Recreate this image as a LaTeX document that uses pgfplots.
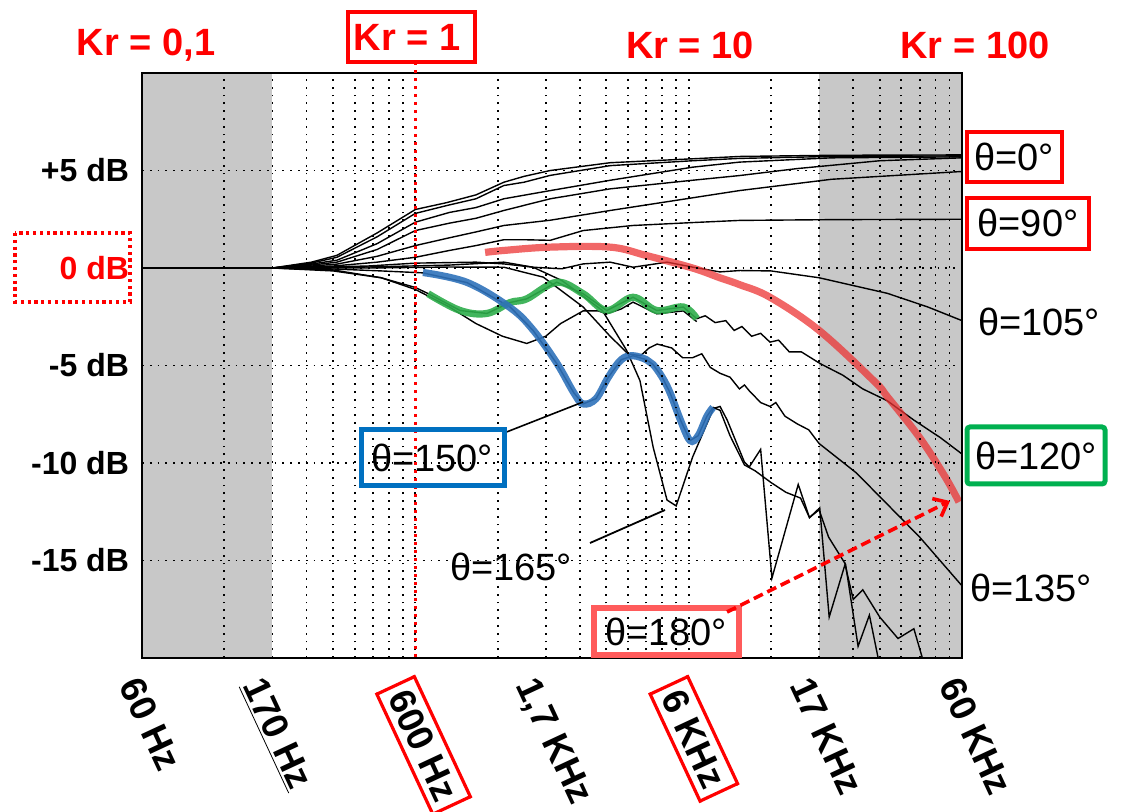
\documentclass[border=0pt]{standalone}
\usepackage{pgfplots}
\pgfplotsset{compat=1.18}
\usepackage{fontspec}
\setmainfont{Liberation Sans}
\usetikzlibrary{arrows.meta}
\definecolor{hlred}{HTML}{EC3434}
\definecolor{hlgreen}{HTML}{2EAD4B}
\definecolor{hlblue}{HTML}{2F72BA}
\definecolor{boxgreen}{HTML}{00B050}
\definecolor{boxblue}{HTML}{0070C0}
\definecolor{boxsalmon}{HTML}{FF5B5B}
\definecolor{band}{HTML}{C8C8C8}
\setlength{\fboxrule}{1.6pt}
\setlength{\fboxsep}{3pt}
\newcommand{\thfont}{\fontsize{19}{19}\selectfont}
\begin{document}
\begin{tikzpicture}
\path[use as bounding box] (0,0) rectangle (560.5pt,-406pt);
\begin{axis}[
  at={(71pt,-329pt)}, anchor=south west,
  scale only axis, width=410pt, height=292.5pt,
  xmode=log, xmin=60, xmax=60000, ymin=-20, ymax=10,
  xtick={60,170,600,1700,6000,17000,60000},
  xticklabels={{60 Hz},{\underline{170 Hz}},{\fcolorbox{red}{white}{600 Hz}},{1,7 KHz},{\fcolorbox{red}{white}{6 KHz}},{17 KHz},{60 KHz}},
  minor xtick={120,180,240,300,360,420,480,540,600,1200,1800,2400,3000,3600,4200,4800,5400,6000,12000,18000,24000,30000,36000,42000,48000,54000},
  xminorgrids, xmajorgrids=false,
  ytick={-15,-10,-5,0,5},
  yticklabels={{-15 dB},{-10 dB},{-5 dB},{\textcolor{red}{0 dB}},{+5 dB}},
  ymajorgrids,
  major tick length=0pt, minor tick length=0pt,
  grid style={black, line width=0.9pt, dash pattern=on 0.9pt off 3pt},
  minor grid style={black, line width=0.9pt, dash pattern=on 0.9pt off 3pt},
  axis line style={black, line width=1.1pt},
  xticklabel style={font=\fontsize{18.5}{18.5}\selectfont\bfseries, rotate=-65, anchor=north west, inner sep=0pt},
  xticklabel shift=8pt,
  yticklabel style={font=\fontsize{16}{16}\selectfont\bfseries, xshift=-3pt},
  axis on top,
]
\fill[band] (axis cs:60,-20) rectangle (axis cs:180,10);
\fill[band] (axis cs:18000,-20) rectangle (axis cs:60000,10);

% theta = 0
\addplot[black, line width=0.7pt] coordinates {(60,0)(180,0)(250,0.3)(310,0.65)(435,1.8)(600,3.0)(780,3.35)(1000,3.75)(1265,4.4)(1500,4.7)(1870,5.0)(3100,5.4)(6200,5.6)(9200,5.72)(20000,5.78)(60000,5.8)};
% theta = 15
\addplot[black, line width=0.7pt] coordinates {(60,0)(180,0)(250,0.25)(310,0.55)(435,1.6)(600,2.8)(780,3.2)(1000,3.55)(1265,4.23)(1500,4.4)(1870,4.75)(3100,5.25)(6200,5.5)(9200,5.62)(20000,5.72)(60000,5.75)};
% theta = 30
\addplot[black, line width=0.7pt] coordinates {(60,0)(180,0)(250,0.2)(310,0.4)(435,1.25)(600,2.35)(800,2.85)(1000,3.1)(1265,3.55)(1870,3.97)(3100,4.5)(6200,5.17)(9200,5.43)(20000,5.65)(60000,5.7)};
% theta = 45
\addplot[black, line width=0.7pt] coordinates {(60,0)(180,0)(250,0.15)(310,0.3)(435,0.95)(600,1.92)(800,2.3)(1000,2.55)(1265,2.95)(1870,3.55)(3100,4.06)(6200,4.5)(9200,4.74)(15000,5.1)(30000,5.5)(60000,5.65)};
% theta = 60
\addplot[black, line width=0.7pt] coordinates {(60,0)(180,0)(250,0.1)(310,0.2)(435,0.6)(600,1.15)(800,1.55)(1000,1.85)(1265,2.18)(1870,2.45)(3100,2.95)(6200,3.6)(9200,3.97)(20000,4.55)(60000,4.95)};
% theta = 90
\addplot[black, line width=0.7pt] coordinates {(60,0)(180,0)(300,0.1)(435,0.3)(600,0.55)(800,0.9)(1000,1.15)(1265,1.45)(1500,1.45)(1870,1.42)(2466,1.92)(3750,2.18)(6200,2.33)(9200,2.44)(20000,2.48)(60000,2.5)};
% theta = 105
\addplot[black, line width=0.7pt] coordinates {(60,0)(180,0)(400,0.1)(600,0.25)(1000,0.3)(1265,0.21)(1618,0.04)(2060,-0.04)(2466,0.21)(3096,0.3)(3755,0.04)(5000,0.3)(6230,0.04)(7800,-0.2)(9245,-0.13)(12000,-0.15)(18000,-0.5)(32000,-1.3)(45000,-2.0)(60000,-2.7)};
% theta = 120
\addplot[black, line width=0.7pt] coordinates {(60,0)(180,0)(300,-0.1)(450,-0.5)(600,-1.0)(668,-1.31)(875,-2.18)(1097,-2.33)(1333,-1.77)(1534,-1.58)(1975,-0.73)(2466,-1.32)(3009,-2.18)(3755,-1.5)(4585,-2.18)(5737,-2.0)(6422,-2.6)(6900,-2.45)(7500,-2.8)(8200,-2.7)(8800,-3.2)(9400,-3.0)(10200,-3.5)(11000,-3.35)(11900,-3.8)(12800,-3.7)(14000,-4.3)(15500,-4.3)(18150,-4.9)(22000,-5.5)(26000,-6.2)(31900,-6.8)(40000,-7.8)(50000,-8.7)(60000,-9.54)};
% theta = 135 (dip)
\addplot[black, line width=0.7pt] coordinates {(60,0)(180,0)(300,-0.15)(450,-0.5)(600,-1.1)(800,-2.0)(1000,-2.85)(1250,-3.5)(1534,-3.87)(1800,-3.5)(2040,-2.85)(2466,-2.2)(2800,-2.2)(3009,-2.35)(3400,-2.1)(3755,-1.75)(4585,-2.35)(5737,-2.2)(6422,-2.75)};
% theta = 150
\addplot[black, line width=0.7pt] coordinates {(60,0)(180,0)(300,-0.05)(450,-0.15)(640,-0.25)(928,-0.75)(1333,-2.0)(1618,-3.2)(1975,-4.9)(2280,-6.4)(2466,-6.97)(2750,-6.7)(3050,-5.6)(3400,-4.7)(3755,-4.5)(4200,-4.7)(4447,-4.95)(4800,-5.6)(5130,-6.4)(5600,-7.8)(6072,-8.85)(6500,-8.6)(7000,-7.6)(7370,-7.15)(7818,-7.3)(8500,-8.6)(9600,-10.1)(10500,-10.4)(12000,-11.0)(13600,-11.5)(15400,-11.8)(16600,-12.8)(18000,-12.4)(19500,-13.8)(22500,-15.2)(25000,-19.4)(27500,-17.8)(30000,-20.4)};
% theta = 165
\addplot[black, line width=0.7pt] coordinates {(60,0)(180,0)(400,0.05)(800,0.15)(1265,0.3)(1618,0.04)(2060,-0.64)(2900,-2.18)(3550,-4.2)(3980,-5.77)(4450,-9.2)(5000,-11.9)(5400,-12.2)(6200,-9.7)(7400,-7.2)(7818,-7.1)(8300,-7.8)(9600,-9.96)(10000,-10.2)(11000,-9.3)(12100,-15.9)(15100,-11.1)(16600,-12.8)(18100,-12.3)(19600,-17.9)(22400,-15.2)(24000,-17)(26000,-16.5)(30000,-17.9)(35000,-19)(40000,-18.5)(44000,-20.5)};
% theta = 180
\addplot[black, line width=0.7pt] coordinates {(60,0)(180,0)(400,0)(800,0.05)(1265,0.04)(1764,-0.47)(2466,-2.0)(3096,-3.5)(3600,-4.4)(4000,-4.5)(4300,-4.1)(4600,-3.9)(5200,-4.1)(5700,-4.6)(6200,-4.6)(6700,-4.4)(7200,-5.1)(7818,-5.4)(8500,-5.6)(9200,-6.2)(9600,-6.0)(10000,-6.3)(11000,-6.9)(11900,-7.1)(12500,-6.9)(13500,-7.6)(15000,-8.0)(16500,-8.3)(18000,-9.0)(24600,-10.5)(31900,-12.1)(42000,-13.8)(60000,-16.3)};

% highlights
\addplot[hlgreen, opacity=0.9, line width=3.6pt, smooth, tension=0.6] coordinates {(668,-1.32)(875,-2.18)(1097,-2.33)(1333,-1.77)(1534,-1.58)(1975,-0.73)(2466,-1.32)(3009,-2.18)(3755,-1.5)(4585,-2.18)(5737,-2.0)(6422,-2.6)};
\addplot[hlblue, opacity=0.9, line width=3.6pt, smooth, tension=0.6] coordinates {(640,-0.23)(928,-0.74)(1333,-2.03)(1618,-3.18)(1975,-4.87)(2280,-6.4)(2466,-6.97)(2750,-6.7)(3050,-5.6)(3400,-4.7)(3755,-4.5)(4200,-4.7)(4447,-4.95)(4800,-5.6)(5130,-6.4)(5600,-7.8)(6072,-8.85)(6500,-8.6)(7000,-7.6)(7370,-7.15)};
\addplot[hlred, opacity=0.75, line width=3.6pt, smooth, tension=0.6] coordinates {(1080,0.8)(1265,0.9)(1870,1.07)(3100,1.07)(4200,0.64)(6200,0.0)(7800,-0.5)(9200,-0.85)(11900,-1.5)(18000,-3.2)(28600,-5.8)(32000,-6.6)(42000,-8.7)(52000,-10.7)(58500,-12.0)};
\end{axis}

\begin{scope}[x=0.5pt, y=-0.5pt]
% red dotted 600 Hz line
\draw[red, line width=1.6pt, dash pattern=on 1.6pt off 2.4pt] (415.3,62) -- (415.3,658);
% Kr labels
\node[red, font=\fontsize{19}{19}\selectfont\bfseries] at (146,45) {Kr = 0,1};
\draw[red, line width=2pt] (348,12) rectangle (475,62);
\node[red, font=\fontsize{19}{19}\selectfont\bfseries] at (407,37) {Kr = 1};
\node[red, font=\fontsize{19}{19}\selectfont\bfseries] at (690,45) {Kr = 10};
\node[red, font=\fontsize{19}{19}\selectfont\bfseries] at (975,45) {Kr = 100};
% 0 dB dotted box
\draw[red, line width=1.6pt, dash pattern=on 1.6pt off 1.8pt] (15,233) rectangle (130,302);
% right labels
\draw[red, line width=2pt] (967,132) rectangle (1062,182);
\node[font=\thfont] at (1014,157) {θ=0°};
\draw[red, line width=2pt] (967,198) rectangle (1089,249);
\node[font=\thfont] at (1028,223) {θ=90°};
\node[font=\thfont] at (1039,322) {θ=105°};
\draw[boxgreen, line width=2.5pt, rounded corners=1.5pt] (967,427) rectangle (1105,484);
\node[font=\thfont] at (1036,456) {θ=120°};
\node[font=\thfont] at (1031,588) {θ=135°};
% 150
\draw[black, line width=0.8pt] (504,433) -- (583,402);
\draw[boxblue, line width=2.5pt] (361,430) rectangle (504,486);
\node[font=\thfont] at (432,458) {θ=150°};
% 165
\draw[black, line width=0.9pt] (590,543) -- (665,510);
\node[font=\thfont] at (511,567) {θ=165°};
% 180
\draw[boxsalmon, line width=3pt] (594,608) rectangle (739,655);
\node[font=\thfont] at (666,632) {θ=180°};
\draw[red, line width=1.8pt, dash pattern=on 5pt off 2.5pt, -{Straight Barb[length=6pt,width=10pt,line width=1.8pt]}] (727,612) -- (950,501);
\end{scope}
\end{tikzpicture}
\end{document}
